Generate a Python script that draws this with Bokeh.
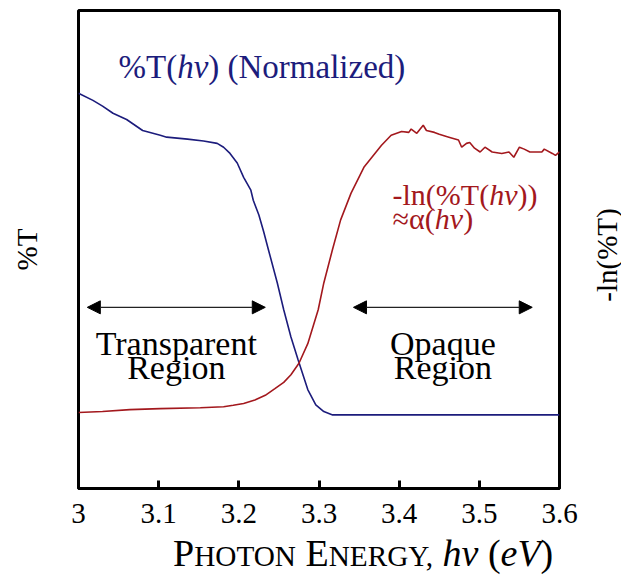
import math
from bokeh.plotting import figure
from bokeh.models import Label, Arrow, NormalHead, FixedTicker, Range1d, LinearAxis, Div
from bokeh.layouts import column
from bokeh.embed import file_html
from bokeh.resources import INLINE

# ---------------- data ----------------
energy_T = [3.000, 3.018, 3.030, 3.043, 3.060, 3.080, 3.102, 3.110, 3.136, 3.156,
            3.173, 3.181, 3.189, 3.198, 3.206, 3.215, 3.218, 3.225, 3.231, 3.237,
            3.248, 3.256, 3.265, 3.274, 3.286, 3.296, 3.306, 3.317, 3.600]
pct_T = [0.827, 0.812, 0.800, 0.785, 0.772, 0.749, 0.739, 0.735, 0.731, 0.727,
         0.722, 0.714, 0.701, 0.681, 0.651, 0.624, 0.603, 0.572, 0.537, 0.499,
         0.430, 0.374, 0.317, 0.269, 0.207, 0.175, 0.161, 0.154, 0.154]

energy_A = [3.000, 3.030, 3.064, 3.102, 3.152, 3.181, 3.193, 3.206, 3.220, 3.233,
            3.245, 3.256, 3.265, 3.275, 3.286, 3.299, 3.306, 3.317, 3.327, 3.340,
            3.356, 3.378, 3.390, 3.403, 3.412, 3.415, 3.422, 3.430, 3.434, 3.444,
            3.450, 3.462, 3.474, 3.478, 3.484, 3.488, 3.494, 3.501, 3.507, 3.516,
            3.528, 3.537, 3.543, 3.550, 3.556, 3.563, 3.578, 3.581, 3.591, 3.595,
            3.600]
neg_ln_T = [0.159, 0.161, 0.165, 0.167, 0.169, 0.171, 0.174, 0.178, 0.185, 0.195,
            0.209, 0.222, 0.238, 0.262, 0.303, 0.374, 0.430, 0.501, 0.562, 0.618,
            0.672, 0.718, 0.739, 0.747, 0.745, 0.752, 0.743, 0.760, 0.749, 0.745,
            0.741, 0.735, 0.729, 0.714, 0.722, 0.724, 0.712, 0.704, 0.714, 0.704,
            0.701, 0.704, 0.693, 0.714, 0.710, 0.704, 0.704, 0.710, 0.701, 0.697,
            0.704]

tick_values = [3.0, 3.1, 3.2, 3.3, 3.4, 3.5, 3.6]
tick_labels = ["3", "3.1", "3.2", "3.3", "3.4", "3.5", "3.6"]

region_start = [3.011, 3.343]
region_end = [3.233, 3.566]
region_level = [0.379, 0.379]
region_words = [["Transparent", "Region"], ["Opaque", "Region"]]

# ---------------- style ----------------
FONT = "Liberation Serif"
BLUE = "#1c1c7c"
RED = "#a3181d"

W = 621
FIG_H = 536
DIV_H = 575 - FIG_H
LEFT, RIGHT, TOP, BOTTOM = 78, 559, 10, 488
BASE_SHIFT = 12  # correction for alphabetic baseline in svg output

p = figure(width=W, height=FIG_H, x_range=Range1d(3.0, 3.6), y_range=Range1d(0, 1),
           output_backend="svg", toolbar_location=None, y_axis_location=None,
           min_border_left=LEFT, min_border_right=W - RIGHT,
           min_border_top=TOP, min_border_bottom=FIG_H - BOTTOM, margin=0)
p.grid.visible = False
p.outline_line_color = "black"
p.outline_line_width = 3
p.background_fill_color = "white"
p.border_fill_color = "white"

ax = p.xaxis[0]
ax.ticker = FixedTicker(ticks=tick_values)
ax.major_label_overrides = {t: s for t, s in zip(tick_values, tick_labels)}
ax.major_tick_in = 8
ax.major_tick_out = 0
ax.major_tick_line_width = 3
ax.major_tick_line_color = "black"
ax.minor_tick_line_color = None
ax.axis_line_width = 3
ax.axis_line_color = "black"
ax.major_label_text_font = FONT
ax.major_label_text_font_size = "29px"
ax.major_label_text_color = "black"
ax.major_label_standoff = 15

left_ax = LinearAxis(ticker=FixedTicker(ticks=[]), axis_label="%T")
left_ax.axis_line_color = None
left_ax.major_tick_line_color = None
left_ax.minor_tick_line_color = None
left_ax.major_tick_out = 0
left_ax.major_tick_in = 0
left_ax.major_label_standoff = 0
left_ax.major_label_text_font_size = "0px"
left_ax.axis_label_standoff = 36
left_ax.axis_label_text_font = FONT
left_ax.axis_label_text_font_size = "29px"
left_ax.axis_label_text_font_style = "normal"
left_ax.axis_label_text_color = "black"
p.add_layout(left_ax, "left")

p.line(energy_T, pct_T, line_color=BLUE, line_width=1.6)
p.line(energy_A, neg_ln_T, line_color=RED, line_width=1.6)


def px2x(px):
    return 3.0 + (px - LEFT) * 0.6 / (RIGHT - LEFT)


def py2y(py):
    return (BOTTOM - (py - BASE_SHIFT)) / (BOTTOM - TOP)


REG = {'%': .833, 'T': .611, '(': .333, ')': .333, ' ': .25, 'N': .722, 'o': .5,
       'r': .333, 'm': .778, 'a': .444, 'l': .278, 'i': .278, 'z': .444, 'e': .444,
       'd': .5, '-': .333, 'n': .5, '≈': .549, 'α': .53}
ITA = {'h': .5, 'ν': .444}


def rich(pieces, x0, base, color):
    cur = x0
    for text, size, italic in pieces:
        table = ITA if italic else REG
        w = sum(table.get(c, 0.5) for c in text) * size
        if text.strip():
            p.add_layout(Label(x=px2x(cur), y=py2y(base), text=text,
                               text_font=FONT, text_font_size=f"{size}px",
                               text_font_style="italic" if italic else "normal",
                               text_color=color, text_align="left",
                               text_baseline="alphabetic"))
        cur += w


# label of blue curve
rich([("%T(", 33, False), ("hν", 33, True), (")", 33, False), (" ", 33, False),
      ("(Normalized)", 33, False)], 118, 78, BLUE)
# label of red curve
rich([("-ln(%T(", 30, False), ("hν", 30, True), ("))", 30, False)], 392, 206, RED)
rich([("≈α(", 30, False), ("hν", 30, True), (")", 30, False)], 392, 230, RED)

# regions
for xs, xe, yl, words in zip(region_start, region_end, region_level, region_words):
    p.add_layout(Arrow(start=NormalHead(size=13, fill_color="black", line_color="black"),
                       end=NormalHead(size=13, fill_color="black", line_color="black"),
                       x_start=xs, y_start=yl, x_end=xe, y_end=yl,
                       line_color="#222222", line_width=1.2))
    xc = (xs + xe) / 2
    p.add_layout(Label(x=xc, y=py2y(355), text=words[0], text_font=FONT,
                       text_font_size="34px", text_color="black",
                       text_align="center", text_baseline="alphabetic"))
    p.add_layout(Label(x=xc, y=py2y(379), text=words[1], text_font=FONT,
                       text_font_size="34px", text_color="black",
                       text_align="center", text_baseline="alphabetic"))

# bottom strip: x-axis title (small caps) and the rotated right-hand title
RIGHT_CX, RIGHT_CY = 607, 255
labels_html = (
    "<div style=\"position:relative;width:%dpx;height:%dpx;overflow:visible;"
    "font-family:'Liberation Serif';color:black;\">"
    "<div style=\"position:absolute;left:173px;top:0px;white-space:nowrap;"
    "font-size:38px;line-height:35px;\">"
    "P<span style=\"font-size:0.77em\">HOTON</span> "
    "E<span style=\"font-size:0.77em\">NERGY,</span> "
    "<i>hν</i> (<i>eV</i>)</div>"
    "<div style=\"position:absolute;left:%dpx;top:%dpx;white-space:nowrap;"
    "font-size:29px;line-height:1;"
    "transform:translate(-50%%,-50%%) rotate(-90deg);\">-ln(%%T)</div>"
    "</div>"
) % (W, DIV_H, RIGHT_CX, RIGHT_CY - FIG_H)

xlabel = Div(text=labels_html, width=W, height=DIV_H, margin=0,
             styles={"overflow": "visible", "z-index": "10"})

layout = column(p, xlabel, spacing=0, margin=0)
open("out.html", "w").write(file_html(layout, INLINE))
